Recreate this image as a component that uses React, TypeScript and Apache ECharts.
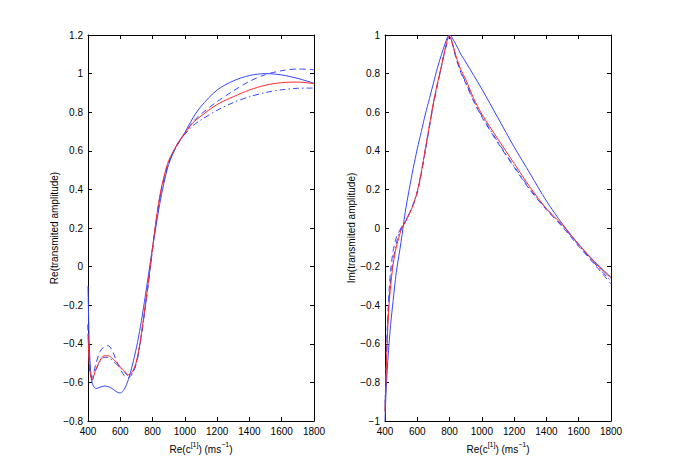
import React, { useEffect, useRef } from "react";
import * as echarts from "echarts";

// ---------- Left panel: Re(transmitted amplitude) ----------
const leftX = [400, 410, 425, 450, 475, 500, 525, 550, 575, 600, 625, 650, 675, 700, 725, 750, 775, 800, 825, 850, 875, 900, 950, 1000, 1050, 1100, 1200, 1300, 1400, 1500, 1600, 1700, 1800];
const leftRed = [-0.35, -0.53, -0.585, -0.53, -0.485, -0.462, -0.462, -0.475, -0.495, -0.52, -0.54, -0.56, -0.545, -0.49, -0.38, -0.23, -0.07, 0.1, 0.26, 0.39, 0.48, 0.55, 0.63, 0.69, 0.745, 0.78, 0.84, 0.88, 0.915, 0.94, 0.953, 0.956, 0.948];
const leftBlueSolid = [-0.1, -0.45, -0.6, -0.632, -0.625, -0.619, -0.622, -0.632, -0.648, -0.655, -0.635, -0.585, -0.51, -0.42, -0.31, -0.18, -0.04, 0.1, 0.23, 0.35, 0.45, 0.53, 0.63, 0.695, 0.77, 0.83, 0.915, 0.962, 0.99, 1.0, 0.993, 0.975, 0.95];
const leftBlueDashed = [-0.3, -0.5, -0.575, -0.5, -0.44, -0.415, -0.41, -0.435, -0.485, -0.53, -0.565, -0.575, -0.555, -0.5, -0.385, -0.24, -0.08, 0.09, 0.25, 0.38, 0.47, 0.54, 0.625, 0.69, 0.75, 0.79, 0.855, 0.91, 0.96, 0.995, 1.015, 1.024, 1.02];
const leftBlueDashDot = [-0.3, -0.52, -0.59, -0.535, -0.49, -0.47, -0.47, -0.485, -0.505, -0.525, -0.545, -0.565, -0.55, -0.5, -0.39, -0.24, -0.075, 0.09, 0.25, 0.38, 0.47, 0.54, 0.625, 0.685, 0.73, 0.76, 0.81, 0.85, 0.88, 0.902, 0.916, 0.924, 0.925];

// ---------- Right panel: Im(transmitted amplitude) ----------
const rightX = [400, 405, 410, 415, 425, 435, 450, 470, 500, 525, 550, 575, 600, 625, 650, 675, 700, 725, 750, 770, 785, 795, 805, 820, 840, 870, 900, 950, 1000, 1100, 1200, 1300, 1400, 1500, 1600, 1700, 1800];
const rightRed = [-0.95, -0.82, -0.68, -0.56, -0.4, -0.3, -0.19, -0.1, -0.01, 0.03, 0.07, 0.12, 0.19, 0.29, 0.41, 0.53, 0.65, 0.75, 0.84, 0.92, 0.97, 0.995, 0.99, 0.95, 0.89, 0.82, 0.77, 0.67, 0.59, 0.46, 0.335, 0.21, 0.1, 0.015, -0.085, -0.18, -0.26];
const rightBlueSolid = [-1.0, -0.88, -0.8, -0.72, -0.6, -0.5, -0.38, -0.23, -0.07, 0.08, 0.2, 0.31, 0.41, 0.5, 0.59, 0.67, 0.75, 0.83, 0.9, 0.95, 0.985, 0.998, 0.998, 0.98, 0.95, 0.9, 0.86, 0.79, 0.72, 0.57, 0.42, 0.28, 0.14, 0.02, -0.085, -0.175, -0.255];
const rightBlueDashed = [-0.95, -0.78, -0.62, -0.5, -0.33, -0.22, -0.12, -0.05, 0.0, 0.03, 0.075, 0.12, 0.18, 0.28, 0.4, 0.52, 0.64, 0.74, 0.84, 0.915, 0.965, 0.992, 0.985, 0.945, 0.88, 0.805, 0.75, 0.655, 0.575, 0.44, 0.315, 0.195, 0.095, 0.005, -0.095, -0.19, -0.29];
const rightBlueDashDot = [-0.92, -0.78, -0.65, -0.53, -0.37, -0.27, -0.17, -0.08, 0.0, 0.035, 0.075, 0.125, 0.19, 0.29, 0.41, 0.53, 0.645, 0.745, 0.84, 0.915, 0.965, 0.993, 0.988, 0.948, 0.885, 0.81, 0.755, 0.66, 0.58, 0.445, 0.32, 0.2, 0.1, 0.01, -0.09, -0.185, -0.275];

// ---------- Axis setup ----------
const xTicks = { min: 400, max: 1800, interval: 200 };
const leftYTicks = { min: -0.8, max: 1.2, interval: 0.2 };
const rightYTicks = { min: -1, max: 1, interval: 0.2 };
const leftYTitle = "Re(transmited amplitude)";
const rightYTitle = "Im(transmited amplitude)";

const RED = "#ff2a2a";
const BLUE = "#3546ff";
const FONT = "Liberation Sans, Arial, Helvetica, sans-serif";

const fmt = (v: number) => {
  const r = Math.round(v * 10) / 10;
  const s = String(r === 0 ? 0 : r);
  return s.replace("-", "\u2212");
};

const pairs = (xs: number[], ys: number[]) => xs.map((x, i) => [x, ys[i]]);

export default function App() {
  const ref = useRef<HTMLDivElement>(null);
  useEffect(() => {
    if (!ref.current) return;
    const chart = echarts.init(ref.current, null, { renderer: "svg" });

    const grids = [
      { left: 88, top: 35, width: 226, height: 386 },
      { left: 385, top: 35, width: 226, height: 386 },
    ];

    const axisLine = { show: true, onZero: false, lineStyle: { color: "#000", width: 1 } };
    const tick = { show: true, inside: true, length: 4, lineStyle: { color: "#000", width: 1 } };
    const label = { color: "#000", fontSize: 10, fontFamily: FONT, formatter: fmt };

    const xName = "{n|Re(c}{s|[1]}{n|) (ms}{s|\u22121}{n|)}";
    const nameRich = {
      n: { fontSize: 10, fontFamily: FONT, color: "#000", lineHeight: 14, verticalAlign: "bottom" },
      s: { fontSize: 7, fontFamily: FONT, color: "#000", lineHeight: 14, verticalAlign: "top", padding: [0, 0, 6, 0] },
    };

    const xAxes: any[] = [];
    const yAxes: any[] = [];
    [0, 1].forEach((g) => {
      xAxes.push({
        type: "value", gridIndex: g, position: "bottom", ...xTicks,
        axisLine, axisTick: tick, splitLine: { show: false },
        axisLabel: { ...label, margin: 5 },
        name: xName, nameLocation: "middle", nameGap: 17,
        nameTextStyle: { rich: nameRich },
      });
      xAxes.push({
        type: "value", gridIndex: g, position: "top", ...xTicks,
        axisLine, axisTick: tick, splitLine: { show: false },
        axisLabel: { show: false },
      });
      const yt = g === 0 ? leftYTicks : rightYTicks;
      yAxes.push({
        type: "value", gridIndex: g, position: "left", ...yt,
        axisLine, axisTick: tick, splitLine: { show: false },
        axisLabel: { ...label, margin: 5 },
        name: g === 0 ? leftYTitle : rightYTitle,
        nameLocation: "middle", nameGap: 25,
        nameTextStyle: { color: "#000", fontSize: 10, fontFamily: FONT },
      });
      yAxes.push({
        type: "value", gridIndex: g, position: "right", ...yt,
        axisLine, axisTick: tick, splitLine: { show: false },
        axisLabel: { show: false },
      });
    });

    const mk = (data: number[][], color: string, type: any, xi: number, yi: number) => ({
      type: "line",
      data,
      xAxisIndex: xi,
      yAxisIndex: yi,
      showSymbol: false,
      symbol: "none",
      smooth: 0.3,
      clip: true,
      lineStyle: { color, width: 1, type },
    });

    const DASH = [6, 4];
    const DASHDOT = [6, 3, 1.5, 3];

    chart.setOption({
      animation: false,
      backgroundColor: "#fff",
      grid: grids,
      xAxis: xAxes,
      yAxis: yAxes,
      series: [
        mk(pairs(leftX, leftBlueSolid), BLUE, "solid", 0, 0),
        mk(pairs(leftX, leftBlueDashed), BLUE, DASH, 0, 0),
        mk(pairs(leftX, leftBlueDashDot), BLUE, DASHDOT, 0, 0),
        mk(pairs(leftX, leftRed), RED, "solid", 0, 0),
        mk(pairs(rightX, rightBlueSolid), BLUE, "solid", 2, 2),
        mk(pairs(rightX, rightBlueDashed), BLUE, DASH, 2, 2),
        mk(pairs(rightX, rightBlueDashDot), BLUE, DASHDOT, 2, 2),
        mk(pairs(rightX, rightRed), RED, "solid", 2, 2),
      ],
    });
    return () => chart.dispose();
  }, []);

  return (
    <div
      ref={ref}
      style={{ position: "fixed", left: 0, top: 0, width: 675, height: 474, background: "#fff" }}
    />
  );
}
